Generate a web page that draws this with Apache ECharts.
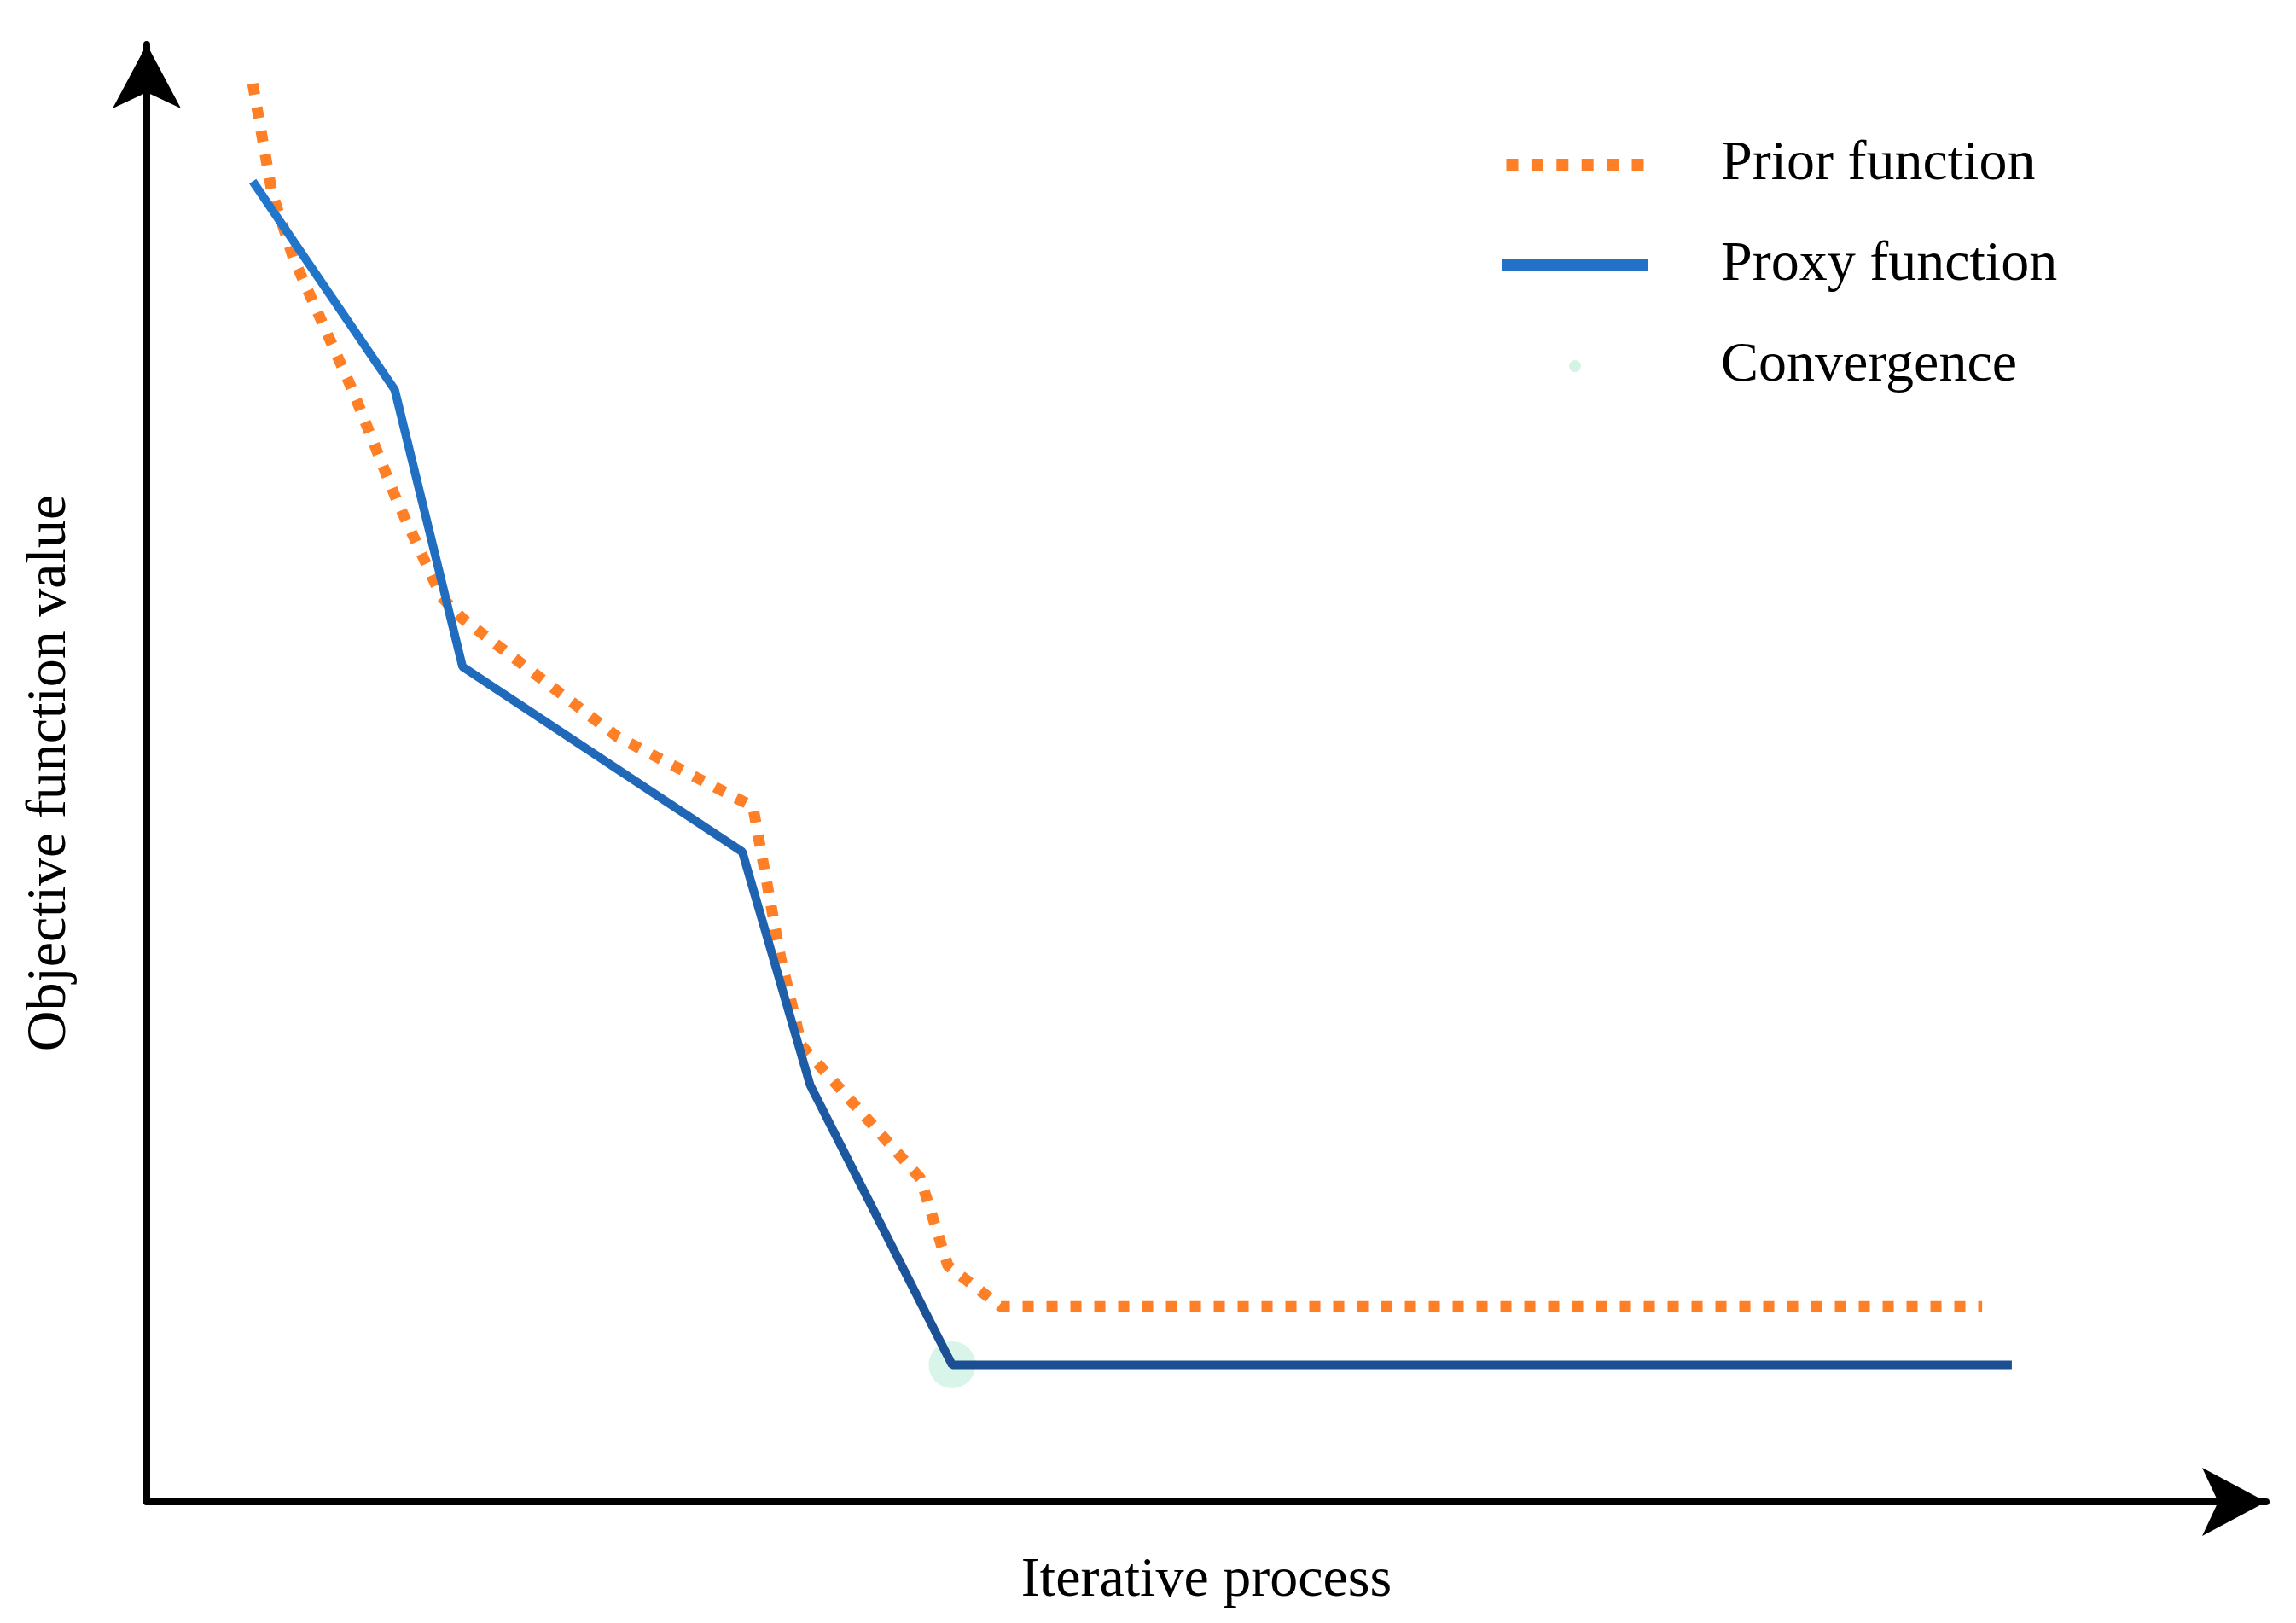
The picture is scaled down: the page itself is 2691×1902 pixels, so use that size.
<!DOCTYPE html>
<html><head><meta charset="utf-8">
<script src="https://cdn.jsdelivr.net/npm/echarts@6/dist/echarts.min.js"></script>
<style>html,body{margin:0;background:#fff}#c{width:2691px;height:1902px}</style>
</head><body><div id="c"></div>
<script>
const priorX = [5.0,5.9,6.9,9.7,11.8,13.9,14.9,22.2,28.6,29.9,30.9,36.5,37.8,40.3,86.6];
const priorY = [97.3,89.9,85.4,76.3,68.7,62.1,60.6,52.5,47.7,37.4,31.3,22.2,16.2,13.4,13.4];
const proxyX = [5.0,11.7,14.9,28.1,31.3,38.0,88.0];
const proxyY = [90.6,76.3,57.3,44.6,28.6,9.4,9.4];
const convergence = [[38.0,9.4]];
const zip=(a,b)=>a.map((v,i)=>[v,b[i]]);
const font='Liberation Serif';
const dots='path://M0,0h1v1h-1zM2.1,0h1v1h-1zM4.2,0h1v1h-1zM6.3,0h1v1h-1zM8.4,0h1v1h-1zM10.5,0h1v1h-1z';
const chart=echarts.init(document.getElementById('c'));
chart.setOption({
  animation:false,
  grid:{left:172,right:35,top:52,bottom:142},
  legend:{
    orient:'vertical',left:1755,top:155,itemWidth:172,itemHeight:14,itemGap:52,
    textStyle:{fontFamily:font,fontSize:66,color:'#000',padding:[0,0,0,80]},
    data:[
      {name:'Prior function',icon:dots,itemStyle:{color:'#ff7f27'}},
      {name:'Proxy function',icon:'rect',itemStyle:{color:'#2272c8'}},
      {name:'Convergence',icon:'circle',itemStyle:{color:'rgba(150,225,190,0.5)'}}
    ]
  },
  xAxis:{type:'value',min:0,max:100,
    name:'Iterative process',nameLocation:'middle',nameGap:60,
    nameTextStyle:{fontFamily:font,fontSize:66,color:'#000'},
    axisLine:{show:true,lineStyle:{color:'#000',width:8},symbol:['none','arrow'],symbolSize:[60,75]},
    axisTick:{show:false},axisLabel:{show:false},splitLine:{show:false}},
  yAxis:{type:'value',min:0,max:100,
    name:'Objective function value',nameLocation:'middle',nameGap:80,
    nameTextStyle:{fontFamily:font,fontSize:66,color:'#000'},
    axisLine:{show:true,lineStyle:{color:'#000',width:8},symbol:['none','arrow'],symbolSize:[60,75]},
    axisTick:{show:false},axisLabel:{show:false},splitLine:{show:false}},
  series:[
    {name:'Prior function',type:'line',data:zip(priorX,priorY),symbol:'none',
     itemStyle:{color:'#ff7f27'},
     lineStyle:{color:'#ff7f27',width:13,type:[13,15]}},
    {name:'Proxy function',type:'line',data:zip(proxyX,proxyY),symbol:'none',
     itemStyle:{color:'#2272c8'},
     lineStyle:{width:10,color:{type:'linear',x:0,y:0,x2:0,y2:1,colorStops:[{offset:0,color:'#2277cc'},{offset:0.5,color:'#2068b8'},{offset:1,color:'#1b4f92'}]}}},
    {name:'Convergence',type:'scatter',data:convergence,symbol:'circle',symbolSize:55,
     itemStyle:{color:'rgba(150,225,190,0.45)'},z:1}
  ]
});
</script></body></html>
